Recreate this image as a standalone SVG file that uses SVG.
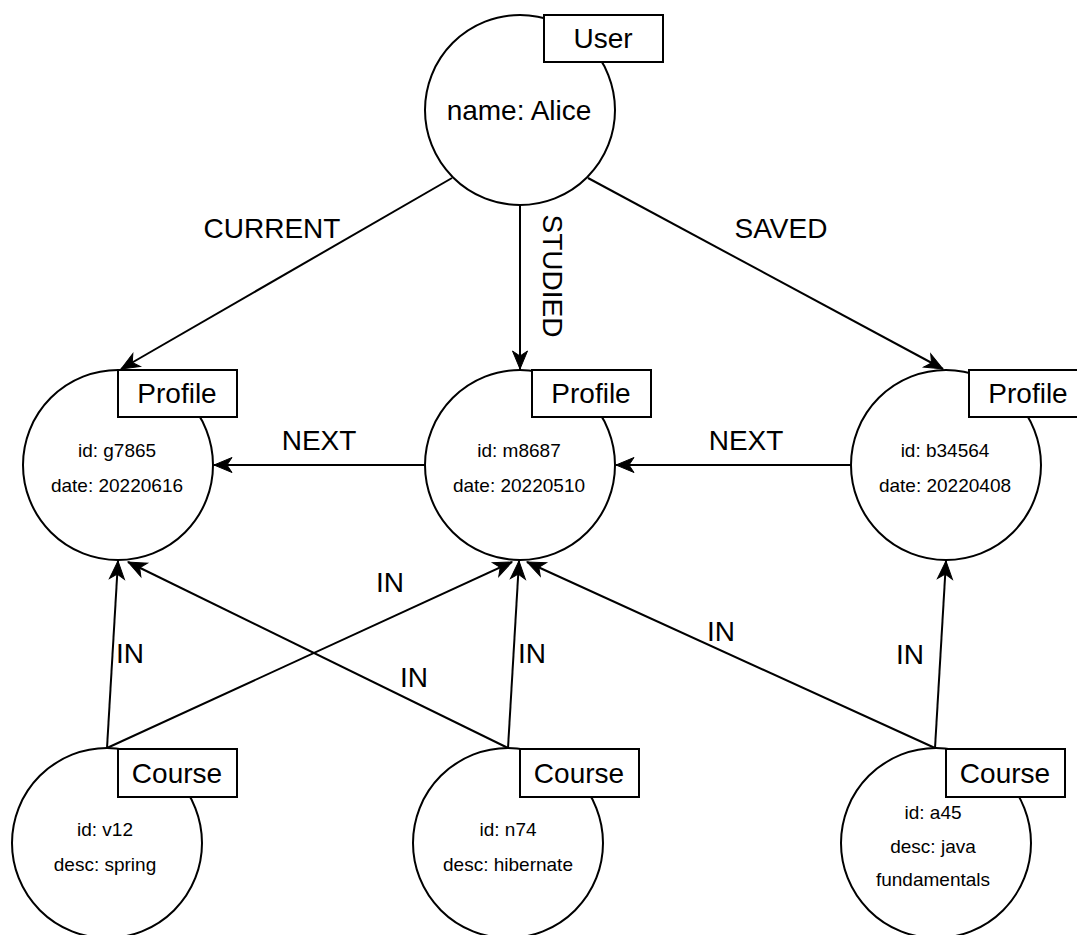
<svg xmlns="http://www.w3.org/2000/svg" width="1077" height="935" viewBox="0 0 1077 935">
<style>
  .node { fill: #ffffff; stroke: #000000; stroke-width: 2; }
  .box { fill: #ffffff; stroke: #000000; stroke-width: 2; }
  .lbl { font-family: "Liberation Sans", Arial, Helvetica, sans-serif; font-size: 28px; fill: #000; text-anchor: middle; }
  .big { font-family: "Liberation Sans", Arial, Helvetica, sans-serif; font-size: 28px; fill: #000; text-anchor: middle; }
  .small { font-family: "Liberation Sans", Arial, Helvetica, sans-serif; font-size: 19px; fill: #000; text-anchor: middle; }
  .edge { fill: none; stroke: #000000; stroke-width: 2; marker-end: url(#arrow); }
  .elbl { font-family: "Liberation Sans", Arial, Helvetica, sans-serif; font-size: 28px; fill: #000; text-anchor: middle; }
</style>
<defs>
  <marker id="arrow" markerUnits="userSpaceOnUse" viewBox="-20 -10 22 20" refX="0" refY="0" markerWidth="22" markerHeight="20" orient="auto" overflow="visible">
    <path d="M0,0 L-18,-7.5 L-13,0 L-18,7.5 Z" fill="#000" stroke="#000" stroke-width="1" stroke-linejoin="miter"/>
  </marker>
</defs>
<rect x="0" y="0" width="1077" height="935" fill="#ffffff"/>

<g id="connectors">
  <line class="edge" x1="452" y1="178" x2="121" y2="369"/>
  <line class="edge" x1="520" y1="205" x2="520" y2="369"/>
  <line class="edge" x1="588" y1="178" x2="943" y2="369"/>
  <line class="edge" x1="425" y1="465" x2="214" y2="465"/>
  <line class="edge" x1="852" y1="465" x2="616" y2="465"/>
  <line class="edge" x1="107" y1="748" x2="118" y2="561"/>
  <line class="edge" x1="107" y1="748" x2="512" y2="562"/>
  <line class="edge" x1="508" y1="748" x2="128" y2="562"/>
  <line class="edge" x1="508" y1="748" x2="519" y2="561"/>
  <line class="edge" x1="935" y1="748" x2="527" y2="562"/>
  <line class="edge" x1="935" y1="748" x2="946" y2="561"/>
  <text class="elbl" x="272" y="238">CURRENT</text>
  <text class="elbl" transform="translate(543,276) rotate(90)" x="0" y="0">STUDIED</text>
  <text class="elbl" x="781" y="238">SAVED</text>
  <text class="elbl" x="319" y="450">NEXT</text>
  <text class="elbl" x="746" y="450">NEXT</text>
  <text class="elbl" x="130" y="663">IN</text>
  <text class="elbl" x="390" y="592">IN</text>
  <text class="elbl" x="414" y="687">IN</text>
  <text class="elbl" x="532" y="663">IN</text>
  <text class="elbl" x="721" y="641">IN</text>
  <text class="elbl" x="910" y="664">IN</text>
</g>

<g id="user">
  <circle class="node" cx="520" cy="110" r="95"/>
  <rect class="box" x="544" y="15" width="119" height="47"/>
  <text class="lbl" x="603" y="48">User</text>
  <text class="big" x="519" y="120">name: Alice</text>
</g>

<g id="profile1">
  <circle class="node" cx="118" cy="465" r="95"/>
  <rect class="box" x="118" y="370" width="119" height="47"/>
  <text class="lbl" x="177" y="403">Profile</text>
  <text class="small" x="117" y="457">id: g7865</text>
  <text class="small" x="117" y="492">date: 20220616</text>
</g>

<g id="profile2">
  <circle class="node" cx="520" cy="465" r="95"/>
  <rect class="box" x="532" y="370" width="119" height="47"/>
  <text class="lbl" x="591" y="403">Profile</text>
  <text class="small" x="519" y="457">id: m8687</text>
  <text class="small" x="519" y="492">date: 20220510</text>
</g>

<g id="profile3">
  <circle class="node" cx="946" cy="465" r="95"/>
  <rect class="box" x="969" y="370" width="119" height="47"/>
  <text class="lbl" x="1028" y="403">Profile</text>
  <text class="small" x="945" y="457">id: b34564</text>
  <text class="small" x="945" y="492">date: 20220408</text>
</g>

<g id="course1">
  <circle class="node" cx="107" cy="843" r="95"/>
  <rect class="box" x="118" y="749" width="119" height="48"/>
  <text class="lbl" x="177" y="783">Course</text>
  <text class="small" x="105" y="836">id: v12</text>
  <text class="small" x="105" y="871">desc: spring</text>
</g>

<g id="course2">
  <circle class="node" cx="508" cy="843" r="95"/>
  <rect class="box" x="520" y="749" width="119" height="48"/>
  <text class="lbl" x="579" y="783">Course</text>
  <text class="small" x="508" y="836">id: n74</text>
  <text class="small" x="508" y="871">desc: hibernate</text>
</g>

<g id="course3">
  <circle class="node" cx="936" cy="843" r="95"/>
  <rect class="box" x="946" y="749" width="119" height="48"/>
  <text class="lbl" x="1005" y="783">Course</text>
  <text class="small" x="933" y="819">id: a45</text>
  <text class="small" x="933" y="853">desc: java</text>
  <text class="small" x="933" y="886">fundamentals</text>
</g>
</svg>
